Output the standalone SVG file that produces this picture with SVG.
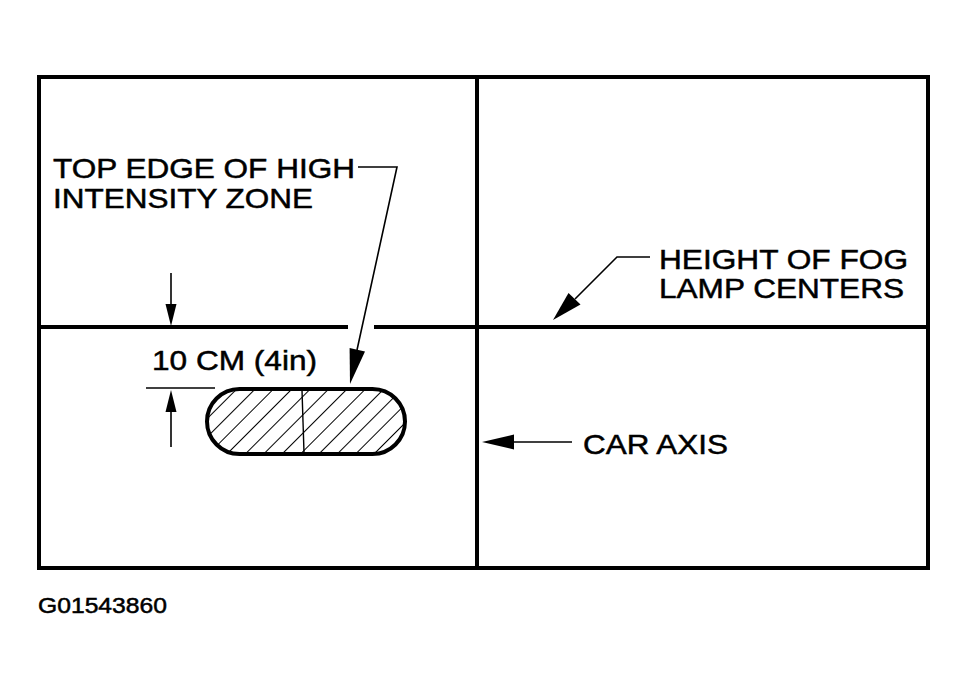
<svg xmlns="http://www.w3.org/2000/svg" width="967" height="689" viewBox="0 0 967 689">
<style>
.t{font-family:"Liberation Sans",Arial,sans-serif;fill:#000;stroke:#000;stroke-width:0.5}
.big{font-size:28px}
.lead{stroke:#000;stroke-width:1.6;fill:none}
.head{fill:#000}
.frame{stroke:#000;stroke-width:4;fill:none}
</style>
<defs>
<pattern id="hatch" patternUnits="userSpaceOnUse" width="13" height="13" patternTransform="rotate(45)">
<line x1="0" y1="0" x2="0" y2="13" stroke="#000" stroke-width="2"/>
</pattern>
<clipPath id="zoneClip"><rect x="207" y="389" width="198" height="65" rx="32.5"/></clipPath>
</defs>
<rect width="967" height="689" fill="#fff"/>
<g id="frame">
<rect class="frame" x="39" y="77" width="889" height="491"/>
<line class="frame" x1="477" y1="77" x2="477" y2="568"/>
<line class="frame" x1="39" y1="327" x2="348" y2="327"/>
<line class="frame" x1="374" y1="327" x2="928" y2="327"/>
</g>
<g id="zone">
<rect x="207" y="389" width="198" height="65" rx="32.5" fill="url(#hatch)"/>
<line x1="302" y1="390" x2="304" y2="453" stroke="#000" stroke-width="1.4"/>
<rect x="207" y="389" width="198" height="65" rx="32.5" fill="none" stroke="#000" stroke-width="4"/>
</g>
<g id="labels">
<text class="t big" x="53" y="178" textLength="302" lengthAdjust="spacingAndGlyphs">TOP EDGE OF HIGH</text>
<text class="t big" x="53" y="208" textLength="260" lengthAdjust="spacingAndGlyphs">INTENSITY ZONE</text>
<text class="t big" x="659" y="269" textLength="249" lengthAdjust="spacingAndGlyphs">HEIGHT OF FOG</text>
<text class="t big" x="659" y="298" textLength="245" lengthAdjust="spacingAndGlyphs">LAMP CENTERS</text>
<text class="t big" x="152" y="370" textLength="165" lengthAdjust="spacingAndGlyphs">10 CM (4in)</text>
<text class="t big" x="583" y="454" textLength="145" lengthAdjust="spacingAndGlyphs">CAR AXIS</text>
<text class="t" x="38" y="613" font-size="22" textLength="129" lengthAdjust="spacingAndGlyphs">G01543860</text>
</g>
<g id="connectors">
<polyline class="lead" points="358,167 397,167 357,350"/>
<polygon class="head" points="350,384 365,351.5 349.6,348"/>
<polyline class="lead" points="650,257 617,257 575,299"/>
<polygon class="head" points="553,320 580.5,304.5 568.5,293"/>
<line class="lead" x1="513" y1="442" x2="572" y2="442"/>
<polygon class="head" points="482,442 514,434.5 514,449.5"/>
<line class="lead" x1="171" y1="273" x2="171" y2="306"/>
<polygon class="head" points="171,326 165.5,304 176.5,304"/>
<line class="lead" x1="171" y1="410" x2="171" y2="447"/>
<polygon class="head" points="171,390 165.5,412 176.5,412"/>
<line class="lead" x1="146" y1="388" x2="215" y2="388"/>
</g>
</svg>
